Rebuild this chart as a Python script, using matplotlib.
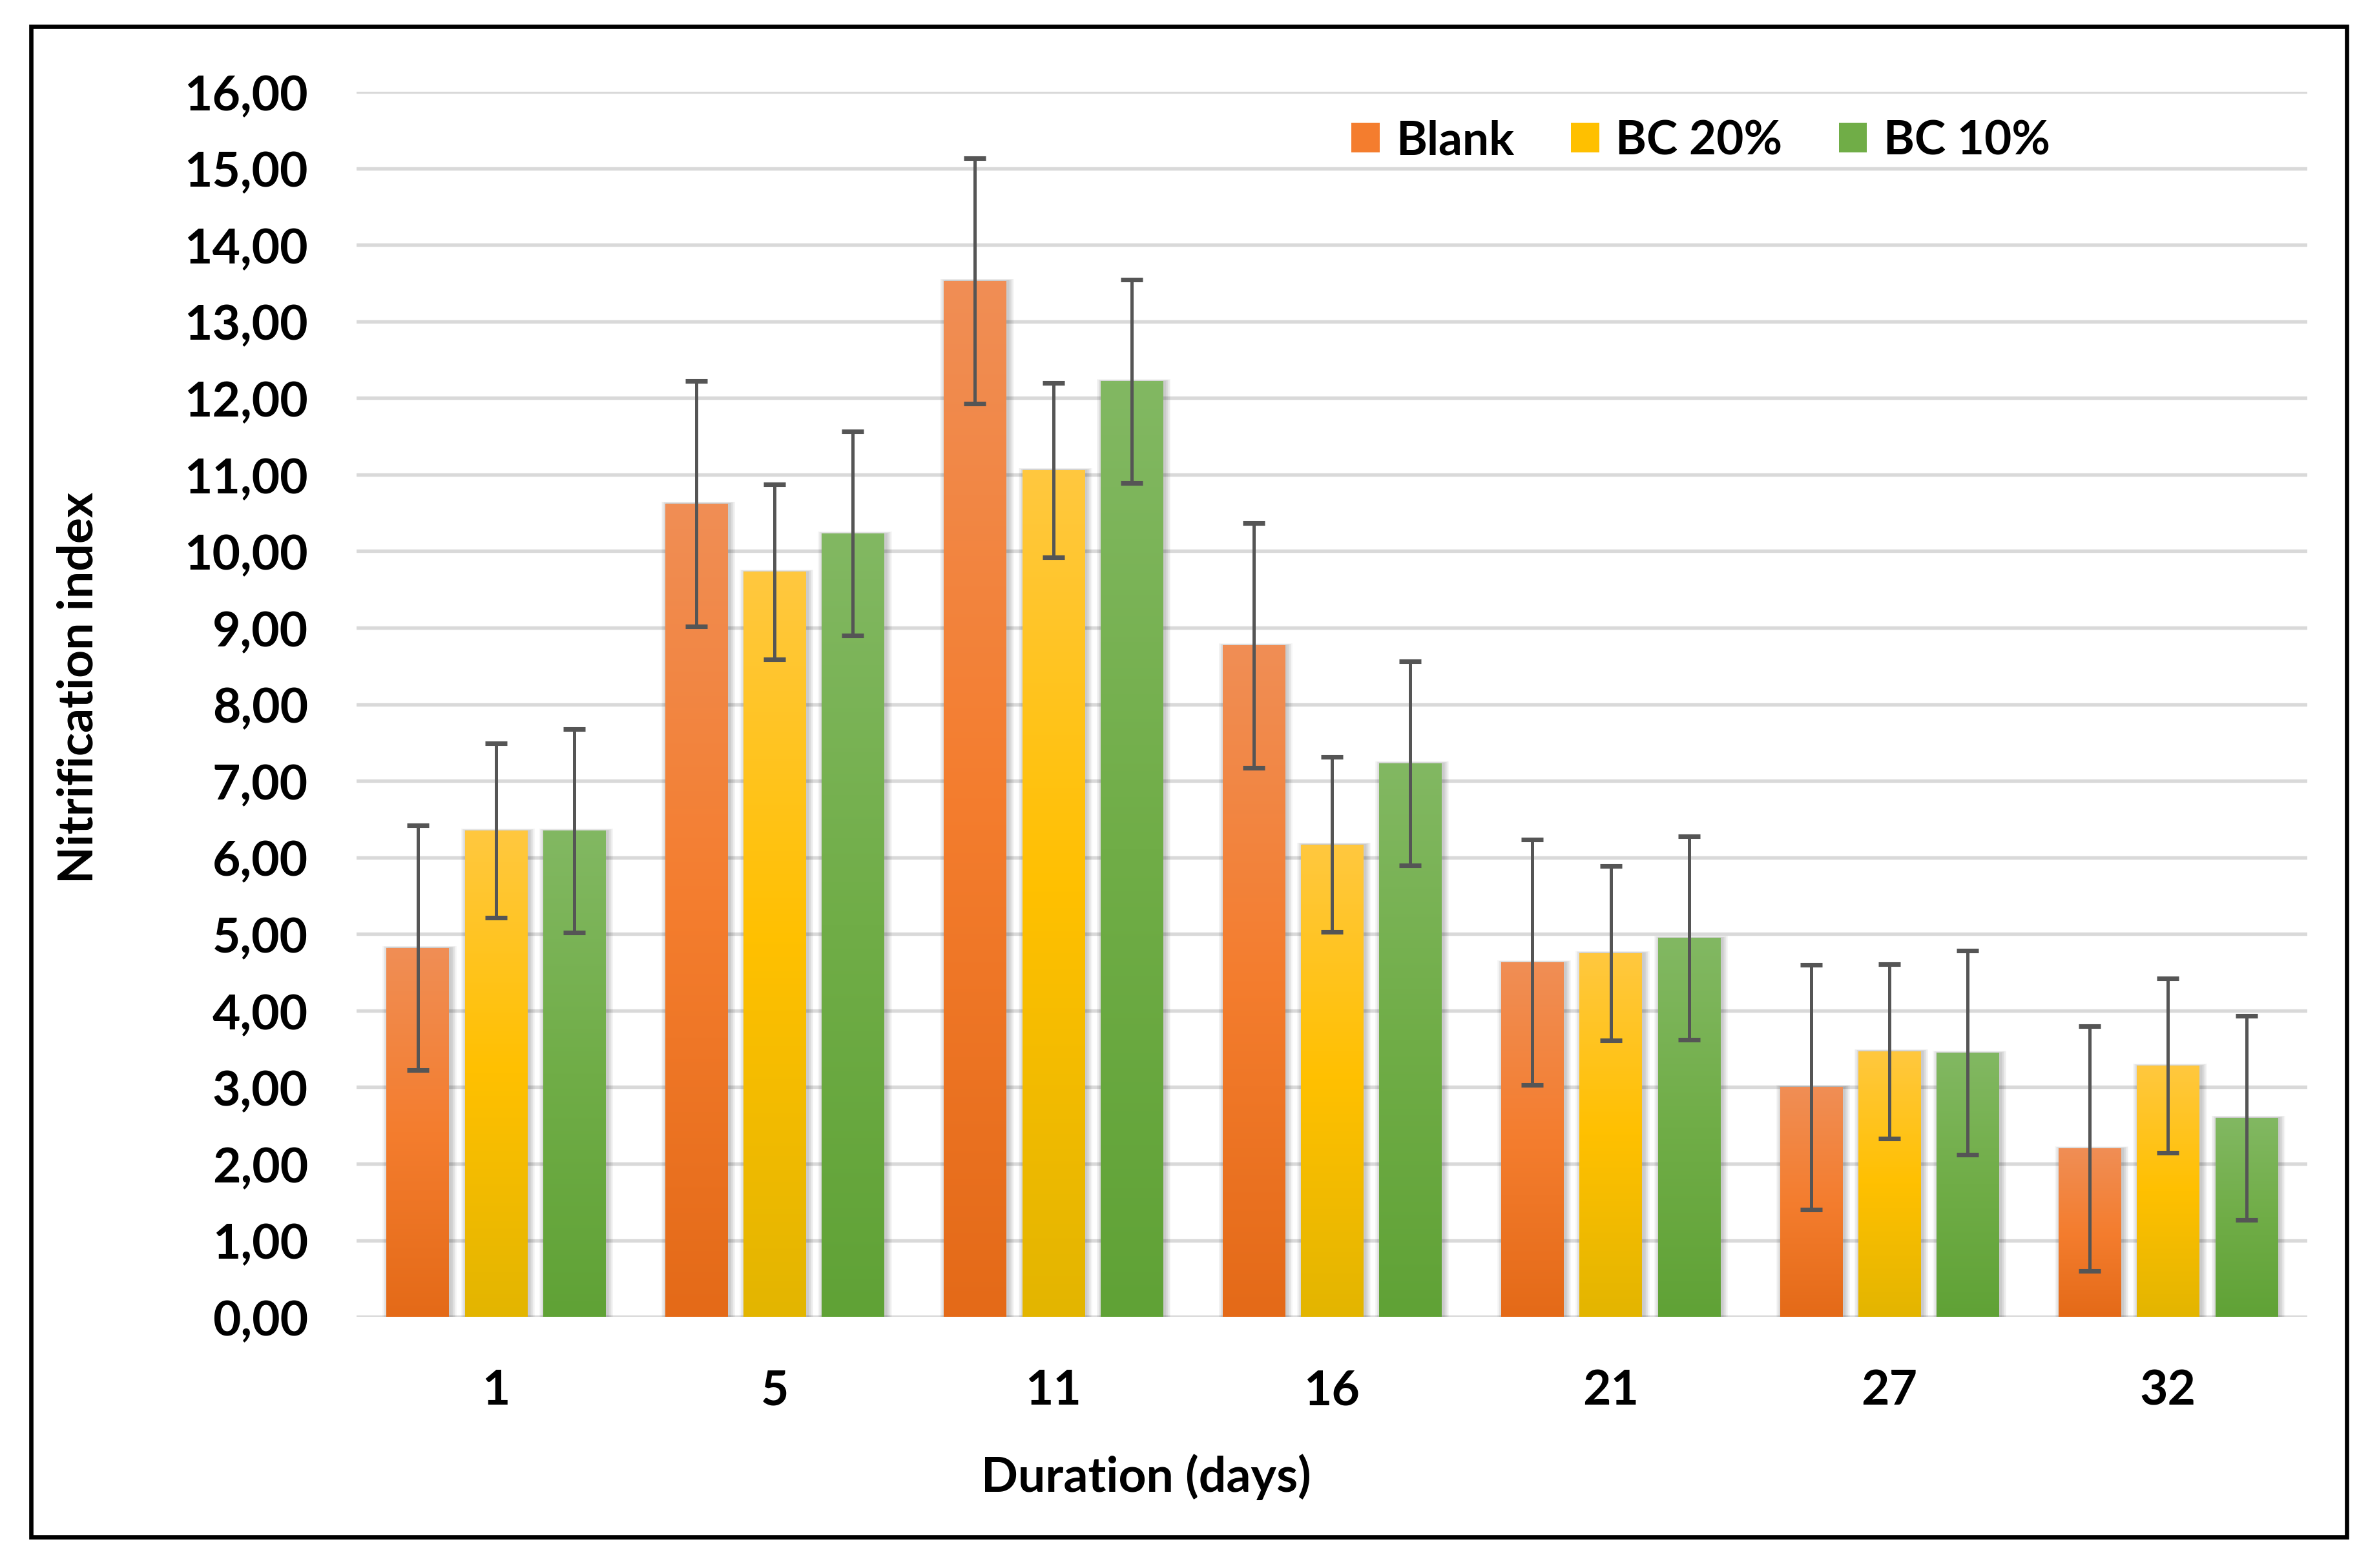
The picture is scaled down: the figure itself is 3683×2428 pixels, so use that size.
import numpy as np
import matplotlib
matplotlib.use('Agg')
import matplotlib.pyplot as plt
from matplotlib.patches import Rectangle
from matplotlib.ticker import FuncFormatter, MultipleLocator
from matplotlib.colors import to_rgb

days = ['1', '5', '11', '16', '21', '27', '32']
series = ['Blank', 'BC 20%', 'BC 10%']

blank = [4.82, 10.62, 13.53, 8.77, 4.63, 3.00, 2.20]
bc20 = [6.35, 9.73, 11.06, 6.17, 4.75, 3.47, 3.28]
bc10 = [6.35, 10.23, 12.22, 7.23, 4.95, 3.45, 2.60]

blank_err = [1.60, 1.60, 1.60, 1.60, 1.60, 1.60, 1.60]
bc20_err = [1.14, 1.14, 1.14, 1.14, 1.14, 1.14, 1.14]
bc10_err = [1.33, 1.33, 1.33, 1.33, 1.33, 1.33, 1.33]

# gradient stops (top, middle, bottom) per series
gradients = [
    ['#F08E55', '#F47D2E', '#E46A18'],
    ['#FFC83F', '#FFC000', '#E3B500'],
    ['#82B862', '#70AD47', '#60A236'],
]

plt.rcParams['font.family'] = ['Lato', 'DejaVu Sans']
plt.rcParams['font.weight'] = 'bold'

left, right, bottom, top = 0.1499, 0.9699, 0.1601, 0.9411
fig = plt.figure(figsize=(3683 / 300, 2429 / 300), dpi=300)
ax = fig.add_axes([left, bottom, right - left, top - bottom])

x = np.arange(len(days))
width = 0.223
step = 0.281
values = [blank, bc20, bc10]
errors = [blank_err, bc20_err, bc10_err]

ax.set_xlim(-0.5, len(days) - 0.5)
ax.set_ylim(0, 16)

# pixel size in data units, used for the soft shadow
px = len(days) / ((right - left) * 3683)
py = 16 / ((top - bottom) * 2429)

handles = []
for i, (vals, errs, grad) in enumerate(zip(values, errors, gradients)):
    pos = x + (i - 1) * step
    bars = ax.bar(pos, vals, width, color=grad[1], zorder=3, label=series[i])
    handles.append(bars)
    for b in bars:
        x0, w, h = b.get_x(), b.get_width(), b.get_height()
        # soft shadow
        for k in range(1, 7):
            ax.add_patch(Rectangle((x0 - k * 1.5 * px + 3 * px, -k * 1.0 * py),
                                   w + k * 3 * px, h + k * 1.5 * py,
                                   facecolor='black', edgecolor='none',
                                   alpha=0.035, zorder=2))
        c = np.array([to_rgb(g) for g in grad])
        t = np.linspace(0, 1, 200)[:, None]
        upper = c[0] + (c[1] - c[0]) * np.clip(t * 2, 0, 1)
        img = np.where(t < 0.5, upper, c[1] + (c[2] - c[1]) * np.clip(t * 2 - 1, 0, 1))
        im = ax.imshow(img[:, None, :], extent=(x0, x0 + w, 0, h),
                       aspect='auto', zorder=3.1, interpolation='bilinear')
        im.set_clip_path(b)
    ax.errorbar(pos, vals, yerr=errs, fmt='none', ecolor='#555555',
                elinewidth=1.2, capsize=4.0, capthick=1.7, zorder=4)

ax.set_xlim(-0.5, len(days) - 0.5)
ax.set_ylim(0, 16)

ax.yaxis.set_major_locator(MultipleLocator(1))
ax.yaxis.set_major_formatter(FuncFormatter(lambda v, p: f'{v:.2f}'.replace('.', ',')))
ax.set_xticks(x)
ax.set_xticklabels(days)
ax.tick_params(axis='both', length=0, labelsize=18)
ax.tick_params(axis='y', pad=18)
ax.tick_params(axis='x', pad=19)
for lab in ax.get_xticklabels() + ax.get_yticklabels():
    lab.set_fontweight('bold')

ax.set_axisbelow(True)
ax.yaxis.grid(True, color='#D9D9D9', linewidth=1.3, zorder=0)
for s in ax.spines.values():
    s.set_visible(False)

ax.set_xlabel('Duration (days)', fontsize=18, fontweight='bold')
ax.xaxis.set_label_coords(0.4046, -0.130)
ax.xaxis.label.set_va('center')
ax.set_ylabel('Nitrification index', fontsize=18, fontweight='bold')
ax.yaxis.set_label_coords(-0.1424, 0.514)
ax.yaxis.label.set_va('center')

ax.legend(handles=handles, labels=series, ncol=3, loc='center',
          bbox_to_anchor=(0.689, 0.960), frameon=False,
          prop={'size': 17.5, 'weight': 'bold'},
          handlelength=0.6, handleheight=0.6, handletextpad=0.35,
          columnspacing=1.2)

fig.add_artist(Rectangle((0.0130, 0.0198), 0.9864 - 0.0130, 0.9827 - 0.0198,
                         transform=fig.transFigure, fill=False,
                         edgecolor='black', linewidth=1.6))

fig.savefig('out.png', dpi=300, facecolor='white')
